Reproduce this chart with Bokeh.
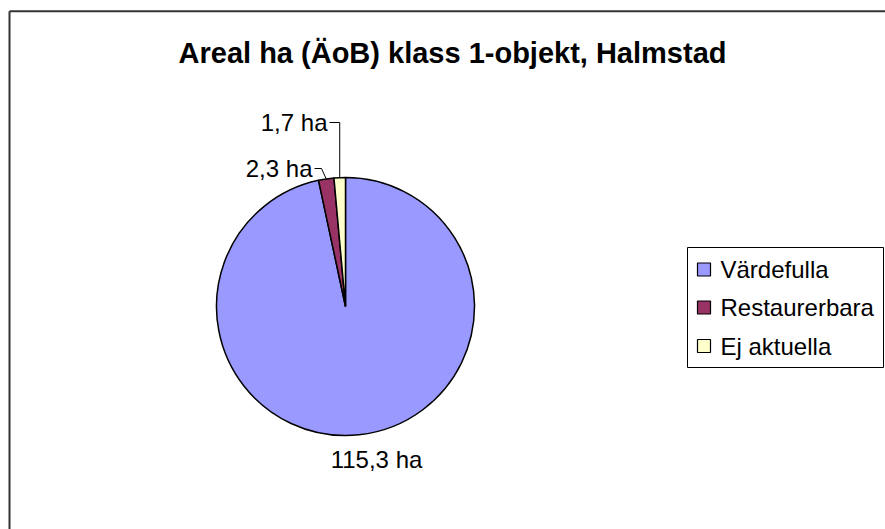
import numpy as np
from bokeh.plotting import figure
from bokeh.models import Range1d, ColumnDataSource
from bokeh.core.properties import value
from bokeh.embed import file_html
from bokeh.resources import INLINE

# ---- data ----
title_text = "Areal ha (ÄoB) klass 1-objekt, Halmstad"
categories = ["Värdefulla", "Restaurerbara", "Ej aktuella"]
areas = [115.3, 2.3, 1.7]
value_labels = ["115,3 ha", "2,3 ha", "1,7 ha"]
colors = ["#9999FF", "#993366", "#FFFFCC"]

# ---- layout helpers (page pixel -> data coordinate) ----
W, H = 885, 529
def X(px):
    return px
def Y(py):
    return H - py

FONT = "Liberation Sans"

p = figure(width=W, height=H, x_range=Range1d(0, W), y_range=Range1d(0, H),
           output_backend="svg", toolbar_location=None, min_border=0,
           x_axis_location=None, y_axis_location=None)
p.grid.visible = False
p.outline_line_color = None
p.background_fill_color = "white"
p.border_fill_color = "white"

# chart border (only left/top visible in the crop)
p.line([X(9), X(9)], [0, Y(10.8)], line_color="#333333", line_width=2)
p.line([X(9), W], [Y(10.8), Y(10.8)], line_color="#333333", line_width=2)

# ---- pie ----
vals = np.array(areas, dtype=float)
frac = vals / vals.sum()
cum_after = np.cumsum(frac)
cum_before = cum_after - frac
start = np.pi / 2 - 2 * np.pi * cum_before
end = np.pi / 2 - 2 * np.pi * cum_after
mid = np.pi / 2 - 2 * np.pi * (cum_before + frac / 2)

cx, cy, r = X(345), Y(306), 129.0
src = ColumnDataSource(dict(cat=categories, start=start, end=end, color=colors))
p.wedge(x=cx, y=cy, radius=r, start_angle="start", end_angle="end",
        direction="clock", fill_color="color", line_color="black",
        line_width=1.5, source=src)

edge_x = cx + r * np.cos(mid)
edge_y = cy + r * np.sin(mid)

LBL = "24px"
# Värdefulla: below the pie
p.text(x=[X(376)], y=[Y(459)], text=[value_labels[0]], text_align="center",
       text_baseline="middle", text_font=value(FONT),
       text_font_size=LBL, text_color="black")
# Restaurerbara with leader
p.text(x=[X(312)], y=[Y(168)], text=[value_labels[1]], text_align="right",
       text_baseline="middle", text_font=value(FONT),
       text_font_size=LBL, text_color="black")
p.line([X(314), X(321), edge_x[1]], [Y(168), Y(168), edge_y[1]],
       line_color="black", line_width=1)
# Ej aktuella with leader
p.text(x=[X(327)], y=[Y(121.5)], text=[value_labels[2]], text_align="right",
       text_baseline="middle", text_font=value(FONT),
       text_font_size=LBL, text_color="black")
p.line([X(329), edge_x[2], edge_x[2]], [Y(122), Y(122), edge_y[2]],
       line_color="black", line_width=1)

# title
p.text(x=[X(452)], y=[Y(52.5)], text=[title_text], text_align="center",
       text_baseline="middle", text_font=value(FONT),
       text_font_size="29px", text_font_style="bold", text_color="black")

# ---- legend (drawn manually) ----
p.quad(left=[X(687)], right=[X(883)], top=[Y(247)], bottom=[Y(367)],
       fill_color="white", line_color="black", line_width=1)
leg_y = [269, 307, 345.5]
leg = ColumnDataSource(dict(
    x=[X(703.5)] * 3, y=[Y(v) for v in leg_y],
    tx=[X(720)] * 3, ty=[Y(v) for v in leg_y],
    label=categories, color=colors))
p.scatter(x="x", y="y", marker="square", size=13, fill_color="color",
          line_color="black", line_width=1.2, source=leg)
p.text(x="tx", y="ty", text="label", text_align="left",
       text_baseline="middle", text_font=value(FONT),
       text_font_size=LBL, text_color="black", source=leg)

open("out.html", "w").write(file_html(p, INLINE))
